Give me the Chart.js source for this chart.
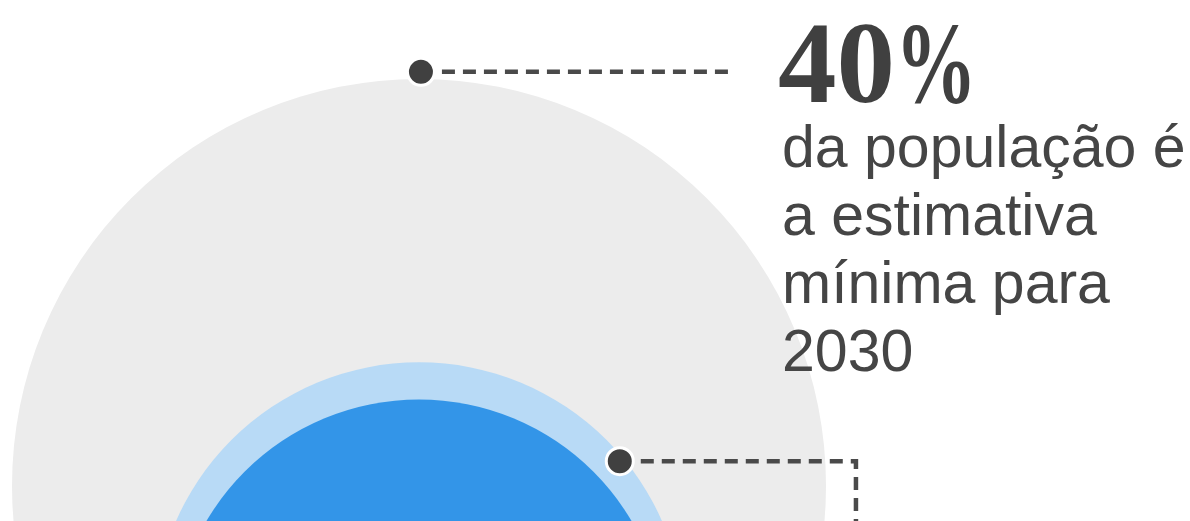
<!DOCTYPE html>
<html>
<head>
<meta charset="utf-8">
<script src="https://cdn.jsdelivr.net/npm/chart.js@4/dist/chart.umd.min.js"></script>
<style>
  body { margin: 0; background: #fff; }
  .wrap { position: relative; width: 1190px; height: 521px; overflow: hidden; }
  .big {
    position: absolute; left: 778px; top: 4px;
    font: bold 117px/117px "Liberation Serif", serif; color: #404040;
    white-space: nowrap;
  }
  .big .pct { display: inline-block; transform: scaleX(0.7); transform-origin: left center; }
  .note {
    position: absolute; left: 782px; top: 113px;
    font: 59px/68px "Liberation Sans", Arial, sans-serif; color: #454545;
    white-space: nowrap;
  }
</style>
</head>
<body>
<div class="wrap">
  <canvas id="chart"></canvas>
  <div class="big">40<span class="pct">%</span></div>
  <div class="note">da população é<br>a estimativa<br>mínima para<br>2030</div>
</div>
<script>
// circles: share of population, drawn by area, resting on a common baseline
const circleLabels = ['Estimativa mínima 2030', 'Faixa', 'Hoje'];
const circleShares = [40, 17, 14.7];
const circleColors = ['#ececec', '#b8daf6', '#3395e8'];

// callouts (data units: radius units, baseline at y = 0)
const callout1 = [{ x: 0.03, y: 12.76 }, { x: 4.88, y: 12.76 }];
const callout2 = [{ x: 3.12, y: 6.71 }, { x: 6.79, y: 6.71 }, { x: 6.79, y: 4.5 }];

// view window, in the same units on both axes
const pxPerUnit = 407 / Math.sqrt(40);
const xMin = -419 / pxPerUnit, xMax = (1190 - 419) / pxPerUnit;
const yMax = 893 / pxPerUnit, yMin = (893 - 521) / pxPerUnit;

function radiusFor(ctx) {
    const s = ctx.chart.scales.x;
    const r = Math.sqrt(circleShares[ctx.dataIndex]);
    return s.getPixelForValue(r) - s.getPixelForValue(0);
}

const canvas = document.getElementById('chart');
canvas.width = 1190;
canvas.height = 521;

new Chart(canvas, {
    type: 'scatter',
    data: {
        datasets: [
            {
                label: 'pontos',
                data: [callout1[0], callout2[0]],
                pointRadius: 13.5,
                pointBackgroundColor: '#404040',
                pointBorderColor: '#fff',
                pointBorderWidth: 3,
                clip: false,
                order: 1
            },
            {
                label: 'linha 1',
                data: callout1,
                showLine: true,
                borderColor: '#4a4a4a',
                borderWidth: 4.5,
                borderDash: [13, 8],
                pointRadius: 0,
                order: 2
            },
            {
                label: 'linha 2',
                data: callout2,
                showLine: true,
                borderColor: '#4a4a4a',
                borderWidth: 4.5,
                borderDash: [13, 8],
                pointRadius: 0,
                order: 2
            },
            {
                label: 'círculos',
                data: circleShares.map(v => ({ x: 0, y: Math.sqrt(v) })),
                pointRadius: radiusFor,
                pointBackgroundColor: circleColors,
                pointBorderWidth: 0,
                clip: false,
                order: 3
            }
        ]
    },
    options: {
        responsive: false,
        animation: false,
        events: [],
        layout: { padding: 0, autoPadding: false },
        plugins: {
            legend: { display: false },
            tooltip: { enabled: false }
        },
        scales: {
            x: { type: 'linear', min: xMin, max: xMax, display: false },
            y: { type: 'linear', min: yMin, max: yMax, display: false }
        }
    }
});
</script>
</body>
</html>
